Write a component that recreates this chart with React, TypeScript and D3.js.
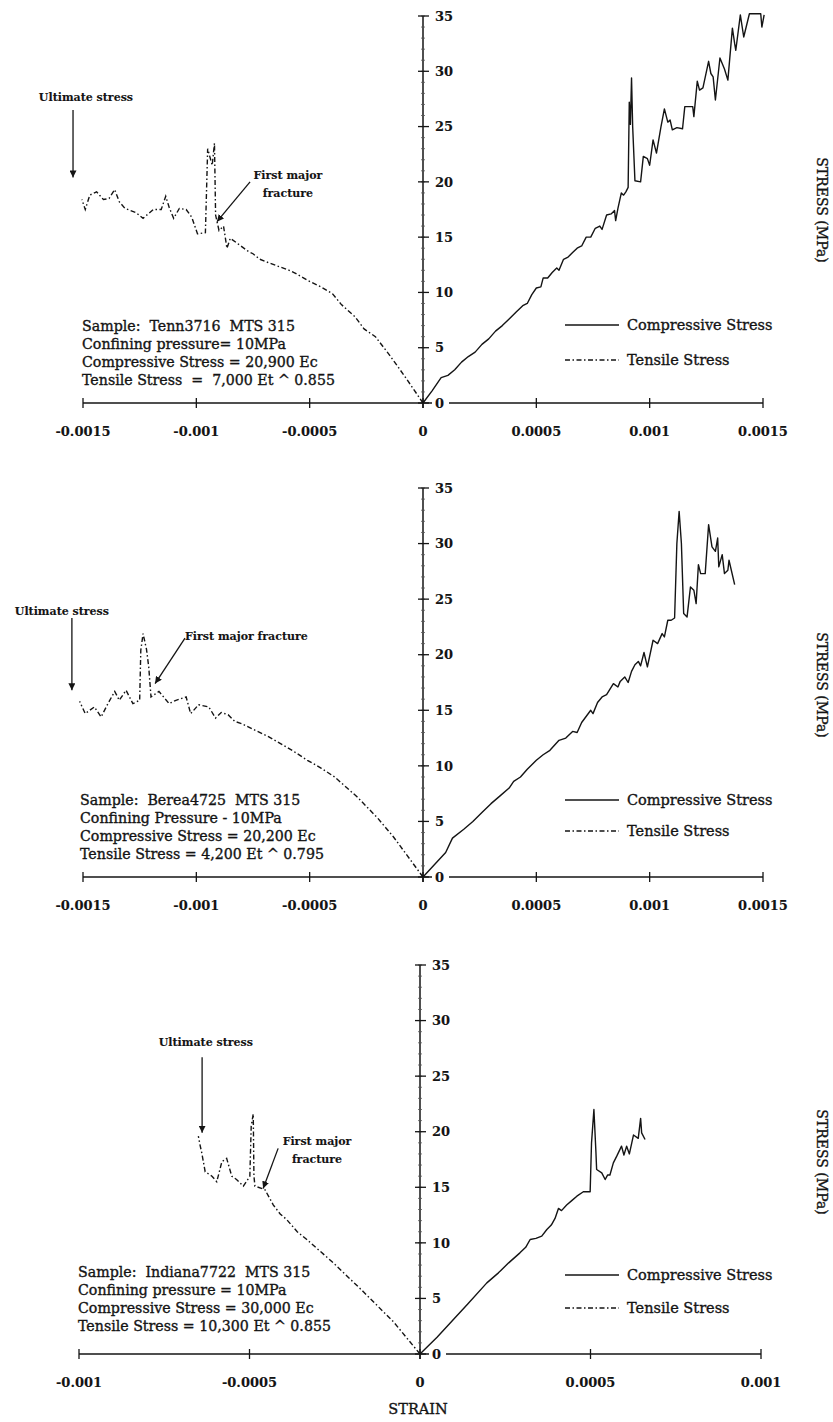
import * as d3 from 'd3';
import React, { useEffect, useRef } from 'react';

const WIDTH = 833;
const HEIGHT = 1422;
const FONT = "'DejaVu Serif', 'Liberation Serif', serif";

// stress axis (MPa)
const STRESS_TICKS = [0, 5, 10, 15, 20, 25, 30, 35];

// strain axis ticks
const STRAIN_TICKS_WIDE = [-0.0015, -0.001, -0.0005, 0, 0.0005, 0.001, 0.0015];
const STRAIN_LABELS_WIDE = ["-0.0015", "-0.001", "-0.0005", "0", "0.0005", "0.001", "0.0015"];
const STRAIN_TICKS_NARROW = [-0.001, -0.0005, 0, 0.0005, 0.001];
const STRAIN_LABELS_NARROW = ["-0.001", "-0.0005", "0", "0.0005", "0.001"];

const LEGEND_LABELS = ["Compressive Stress", "Tensile Stress"];

// curves: [strain (x 1e-4), stress (MPa)]
const TENN_COMPRESSIVE: [number, number][] = [
  [0, 0], [0.4, 1.1], [0.8, 2.3], [1.1, 2.5], [1.4, 3.0], [1.7, 3.7], [2.0, 4.2], [2.3, 4.6],
  [2.6, 5.3], [2.9, 5.8], [3.2, 6.5], [3.5, 7.0], [3.8, 7.6], [4.1, 8.2], [4.4, 8.8], [4.6, 9.0],
  [4.8, 9.8], [5.0, 10.4], [5.2, 10.5], [5.3, 11.3], [5.5, 11.3], [5.7, 11.8], [5.9, 12.2], [6.0, 12.0],
  [6.2, 13.0], [6.4, 13.2], [6.6, 13.6], [6.8, 14.0], [7.0, 14.2], [7.2, 15.0], [7.4, 15.0], [7.6, 15.8],
  [7.8, 16.0], [7.9, 15.7], [8.1, 17.0], [8.3, 17.1], [8.45, 17.4], [8.5, 16.5], [8.6, 17.6], [8.75, 19.0],
  [8.85, 18.8], [8.95, 19.1], [9.05, 19.5], [9.1, 27.2], [9.15, 25.2], [9.2, 29.4], [9.25, 25.0], [9.35, 20.1],
  [9.6, 20.0], [9.72, 22.3], [9.9, 22.1], [10.0, 21.5], [10.15, 23.8], [10.3, 22.6], [10.5, 25.0], [10.65, 26.6],
  [10.8, 25.4], [10.9, 25.6], [11.0, 24.7], [11.2, 24.9], [11.45, 24.8], [11.55, 26.8], [11.9, 26.8], [11.95, 25.9],
  [12.1, 29.1], [12.2, 28.3], [12.35, 28.5], [12.6, 30.9], [12.7, 29.8], [12.8, 29.5], [12.9, 27.4], [13.1, 31.2],
  [13.3, 30.2], [13.45, 29.2], [13.65, 33.9], [13.75, 32.5], [13.8, 31.9], [14.0, 35.1], [14.15, 33.1], [14.4, 35.2],
  [14.9, 35.2], [14.95, 34.0], [15.05, 35.1]
];
const TENN_TENSILE: [number, number][] = [
  [0, 0], [-0.8, 2.4], [-1.5, 4.4], [-2.1, 6.0], [-2.6, 6.7], [-3.0, 7.8], [-3.6, 8.9], [-4.0, 9.9],
  [-4.5, 10.5], [-5.1, 11.1], [-5.6, 11.7], [-5.9, 12.0], [-6.3, 12.3], [-6.7, 12.6], [-7.2, 13.0], [-7.5, 13.5],
  [-7.7, 13.7], [-8.1, 14.3], [-8.5, 14.9], [-8.65, 14.0], [-8.8, 16.0], [-9.0, 15.6], [-9.15, 17.0], [-9.2, 23.5],
  [-9.3, 21.5], [-9.5, 23.0], [-9.6, 15.4], [-9.95, 15.3], [-10.2, 16.8], [-10.45, 17.5], [-10.75, 17.6], [-11.0, 16.7],
  [-11.2, 17.7], [-11.35, 18.7], [-11.55, 17.5], [-11.9, 17.5], [-12.35, 16.7], [-12.65, 17.2], [-13.15, 17.6], [-13.4, 18.2],
  [-13.6, 19.3], [-13.85, 18.5], [-14.1, 18.4], [-14.4, 19.1], [-14.7, 18.8], [-14.9, 17.5], [-15.05, 18.4]
];

const BEREA_COMPRESSIVE: [number, number][] = [
  [0, 0], [0.5, 1.1], [1.0, 2.2], [1.3, 3.5], [1.8, 4.3], [2.2, 5.0], [2.6, 5.8], [3.0, 6.6],
  [3.4, 7.3], [3.8, 8.0], [4.0, 8.6], [4.3, 9.0], [4.6, 9.7], [5.0, 10.5], [5.3, 11.0], [5.6, 11.4],
  [6.0, 12.3], [6.3, 12.5], [6.6, 13.1], [6.8, 13.0], [7.0, 13.9], [7.4, 15.0], [7.5, 14.7], [7.7, 15.7],
  [7.9, 16.2], [8.1, 16.4], [8.4, 17.4], [8.6, 17.1], [8.7, 17.6], [8.9, 18.0], [9.05, 17.5], [9.2, 18.5],
  [9.35, 19.1], [9.5, 19.4], [9.6, 19.0], [9.75, 20.2], [9.9, 18.9], [10.15, 21.3], [10.35, 21.0], [10.55, 21.9],
  [10.65, 21.6], [10.8, 23.1], [10.95, 23.1], [11.1, 23.3], [11.2, 30.0], [11.3, 32.9], [11.4, 30.0], [11.5, 23.7],
  [11.65, 23.4], [11.8, 26.1], [11.95, 25.8], [12.05, 24.6], [12.15, 28.1], [12.25, 27.3], [12.45, 27.3], [12.6, 31.7],
  [12.75, 29.7], [12.9, 29.3], [13.0, 30.5], [13.05, 27.9], [13.2, 29.0], [13.3, 27.3], [13.45, 27.6], [13.5, 28.5],
  [13.75, 26.3]
];
const BEREA_TENSILE: [number, number][] = [
  [0, 0], [-1.3, 3.6], [-2.0, 5.3], [-2.9, 7.2], [-3.4, 8.1], [-3.9, 9.0], [-4.5, 9.8], [-5.1, 10.5],
  [-5.7, 11.3], [-6.2, 11.9], [-6.8, 12.6], [-7.4, 13.2], [-8.0, 13.8], [-8.3, 14.0], [-8.6, 14.6], [-8.9, 14.8],
  [-9.15, 14.3], [-9.45, 15.3], [-9.9, 15.5], [-10.25, 14.7], [-10.45, 16.2], [-10.9, 15.9], [-11.2, 15.6], [-11.65, 16.7],
  [-12.0, 16.2], [-12.1, 18.9], [-12.2, 20.5], [-12.35, 21.9], [-12.45, 20.4], [-12.5, 15.9], [-12.8, 15.6], [-13.1, 16.8],
  [-13.4, 15.9], [-13.6, 16.7], [-13.9, 15.6], [-14.2, 14.4], [-14.5, 15.3], [-14.9, 14.7], [-15.15, 15.8]
];

const INDIANA_COMPRESSIVE: [number, number][] = [
  [0, 0], [0.5, 1.5], [0.98, 3.1], [1.4, 4.5], [1.96, 6.4], [2.3, 7.3], [2.6, 8.2], [2.93, 9.1],
  [3.1, 9.6], [3.23, 10.3], [3.4, 10.4], [3.57, 10.6], [3.72, 11.2], [3.85, 11.6], [3.96, 12.2], [4.06, 13.1],
  [4.15, 12.9], [4.3, 13.4], [4.45, 13.8], [4.6, 14.2], [4.79, 14.6], [4.99, 14.6], [5.03, 19.0], [5.1, 22.0],
  [5.16, 18.1], [5.18, 16.6], [5.33, 16.3], [5.43, 15.7], [5.5, 16.1], [5.57, 16.1], [5.67, 17.2], [5.77, 17.8],
  [5.91, 18.7], [5.98, 17.9], [6.06, 18.7], [6.14, 18.0], [6.26, 19.7], [6.4, 19.4], [6.47, 21.2], [6.5, 19.9],
  [6.6, 19.3]
];
const INDIANA_TENSILE: [number, number][] = [
  [0, 0], [-0.78, 2.9], [-1.66, 5.6], [-2.54, 8.2], [-3.32, 10.3], [-3.6, 11.0], [-3.91, 12.1], [-4.1, 12.6],
  [-4.3, 13.4], [-4.55, 14.8], [-4.84, 15.1], [-4.87, 16.0], [-4.89, 21.6], [-4.95, 20.5], [-4.99, 16.0], [-5.03, 15.8],
  [-5.18, 15.1], [-5.38, 15.7], [-5.52, 16.0], [-5.67, 17.6], [-5.81, 17.3], [-5.96, 15.5], [-6.1, 16.0], [-6.3, 16.4],
  [-6.4, 18.1], [-6.45, 18.8], [-6.5, 19.6]
];

const TENN_NOTES = [
  "Sample:  Tenn3716  MTS 315",
  "Confining pressure= 10MPa",
  "Compressive Stress = 20,900 Ec",
  "Tensile Stress  =  7,000 Et ^ 0.855"
];
const BEREA_NOTES = [
  "Sample:  Berea4725  MTS 315",
  "Confining Pressure - 10MPa",
  "Compressive Stress = 20,200 Ec",
  "Tensile Stress = 4,200 Et ^ 0.795"
];
const INDIANA_NOTES = [
  "Sample:  Indiana7722  MTS 315",
  "Confining pressure = 10MPa",
  "Compressive Stress = 30,000 Ec",
  "Tensile Stress = 10,300 Et ^ 0.855"
];

// panel layout (pixels) and annotation anchors (strain, MPa)
const PANELS = [
  {
    left: 83, right: 763, top: 16, bottom: 403, strainMax: 0.0015,
    ticks: STRAIN_TICKS_WIDE, labels: STRAIN_LABELS_WIDE,
    compressive: TENN_COMPRESSIVE, tensile: TENN_TENSILE, notes: TENN_NOTES,
    notesX: 82, notesY: 331, legendY: 325, legendGap: 35, titleY: 210,
    ultimate: { tx: -0.001487, ty: 27.35, ax: -0.001544, ay1: 26.5, ay2: 20.4 },
    fracture: { lines: ["First major", "fracture"], tx: -0.000596, ty: 20.3, ax1: -0.000763, ay1: 20.0, ax2: -0.000909, ay2: 16.4 }
  },
  {
    left: 83, right: 763, top: 488, bottom: 877, strainMax: 0.0015,
    ticks: STRAIN_TICKS_WIDE, labels: STRAIN_LABELS_WIDE,
    compressive: BEREA_COMPRESSIVE, tensile: BEREA_TENSILE, notes: BEREA_NOTES,
    notesX: 80, notesY: 805, legendY: 800, legendGap: 31, titleY: 685,
    ultimate: { tx: -0.001593, ty: 23.6, ax: -0.001549, ay1: 23.3, ay2: 16.8 },
    fracture: { lines: ["First major fracture"], tx: -0.000779, ty: 21.3, ax1: -0.00105, ay1: 21.5, ax2: -0.001182, ay2: 17.4 }
  },
  {
    left: 79, right: 761, top: 965, bottom: 1354, strainMax: 0.001,
    ticks: STRAIN_TICKS_NARROW, labels: STRAIN_LABELS_NARROW,
    compressive: INDIANA_COMPRESSIVE, tensile: INDIANA_TENSILE, notes: INDIANA_NOTES,
    notesX: 78, notesY: 1277, legendY: 1275, legendGap: 33, titleY: 1162,
    ultimate: { tx: -0.000628, ty: 27.7, ax: -0.000639, ay1: 26.7, ay2: 19.9 },
    fracture: { lines: ["First major", "fracture"], tx: -0.000302, ty: 18.8, ax1: -0.000416, ay1: 18.5, ax2: -0.00046, ay2: 14.9 }
  }
];

const TENSILE_DASH = "5,2.5,1.5,2.5";
const INK = "#141414";

const App: React.FC = () => {
  const svgRef = useRef<SVGSVGElement>(null);

  useEffect(() => {
    if (!svgRef.current) { return; }
    const svg = d3.select(svgRef.current);
    svg.selectAll("*").remove();

    svg.append("rect").attr("width", WIDTH).attr("height", HEIGHT).attr("fill", "#fff");

    svg.append("defs").append("marker")
      .attr("id", "arrowhead")
      .attr("viewBox", "0 0 10 10")
      .attr("refX", 10).attr("refY", 5)
      .attr("markerWidth", 7).attr("markerHeight", 7)
      .attr("markerUnits", "userSpaceOnUse")
      .attr("orient", "auto")
      .append("path")
      .attr("d", "M0,0 L10,5 L0,10 Z")
      .attr("fill", INK);

    // heavier serif text, like the scanned print
    const inked = (sel: d3.Selection<SVGTextElement, any, any, any>, size: number, bold = false) =>
      sel.style("font-family", FONT)
        .style("font-size", `${size}px`)
        .style("font-weight", bold ? "bold" : "normal")
        .style("fill", INK)
        .style("stroke", INK)
        .style("stroke-width", bold ? 0.1 : 0.35);

    PANELS.forEach(panel => {
      const x = d3.scaleLinear()
        .domain([-panel.strainMax, panel.strainMax])
        .range([panel.left, panel.right]);
      const y = d3.scaleLinear()
        .domain([0, 35])
        .range([panel.bottom, panel.top]);
      const x0 = x(0);
      const g = svg.append("g");

      // x axis
      g.append("line")
        .attr("x1", x(panel.ticks[0])).attr("x2", x(panel.ticks[panel.ticks.length - 1]))
        .attr("y1", y(0)).attr("y2", y(0))
        .attr("stroke", INK).attr("stroke-width", 1.3);
      g.selectAll(".xtick")
        .data(panel.ticks)
        .enter().append("line")
        .attr("x1", t => x(t)).attr("x2", t => x(t))
        .attr("y1", y(0) - 5).attr("y2", y(0) + 5)
        .attr("stroke", INK).attr("stroke-width", 1.3);
      inked(g.selectAll(".xlabel")
        .data(panel.ticks)
        .enter().append("text")
        .attr("x", t => x(t))
        .attr("y", y(0) + 33)
        .attr("text-anchor", "middle")
        .text((t, i) => panel.labels[i]), 13, true);

      // y axis
      g.append("line")
        .attr("x1", x0).attr("x2", x0)
        .attr("y1", y(0) + 5).attr("y2", y(35))
        .attr("stroke", INK).attr("stroke-width", 1.5);
      g.selectAll(".yminor")
        .data(d3.range(0, 36))
        .enter().append("line")
        .attr("x1", x0 - 2).attr("x2", x0 + 2)
        .attr("y1", v => y(v)).attr("y2", v => y(v))
        .attr("stroke", "#555").attr("stroke-width", 0.8);
      g.selectAll(".ytick")
        .data(STRESS_TICKS)
        .enter().append("line")
        .attr("x1", x0 - 5).attr("x2", x0 + 6)
        .attr("y1", v => y(v)).attr("y2", v => y(v))
        .attr("stroke", INK).attr("stroke-width", 1.3);
      g.selectAll(".ybg")
        .data(STRESS_TICKS)
        .enter().append("rect")
        .attr("x", x0 + 9).attr("y", v => y(v) - 7)
        .attr("width", v => v < 10 ? 17 : 24).attr("height", 14)
        .attr("fill", "#fff");
      inked(g.selectAll(".ylabel")
        .data(STRESS_TICKS)
        .enter().append("text")
        .attr("x", x0 + 12)
        .attr("y", v => y(v))
        .attr("dy", "0.36em")
        .text(v => `${v}`), 13, true);

      // curves
      const line = d3.line<[number, number]>()
        .x(d => x(d[0] * 1e-4))
        .y(d => y(d[1]));
      g.append("path")
        .attr("d", line(panel.compressive))
        .attr("fill", "none")
        .attr("stroke", INK)
        .attr("stroke-width", 1.4)
        .attr("stroke-linejoin", "round");
      g.append("path")
        .attr("d", line(panel.tensile))
        .attr("fill", "none")
        .attr("stroke", INK)
        .attr("stroke-width", 1.4)
        .attr("stroke-dasharray", TENSILE_DASH);

      // sample notes
      inked(g.selectAll(".note")
        .data(panel.notes)
        .enter().append("text")
        .attr("x", panel.notesX)
        .attr("y", (n, i) => panel.notesY + i * 18)
        .style("white-space", "pre")
        .text(n => n), 14.2);

      // legend
      LEGEND_LABELS.forEach((label, i) => {
        const ly = panel.legendY + i * panel.legendGap;
        g.append("line")
          .attr("x1", 565).attr("x2", 619)
          .attr("y1", ly).attr("y2", ly)
          .attr("stroke", INK).attr("stroke-width", 1.4)
          .attr("stroke-dasharray", i === 0 ? null : TENSILE_DASH);
        inked(g.append("text")
          .attr("x", 627).attr("y", ly)
          .attr("dy", "0.35em")
          .text(label), 14.5);
      });

      // axis title
      inked(g.append("text")
        .attr("transform", `translate(822,${panel.titleY}) rotate(90)`)
        .attr("text-anchor", "middle")
        .attr("dy", "0.35em")
        .text("STRESS (MPa)"), 14);

      // ultimate stress annotation
      const u = panel.ultimate;
      inked(g.append("text")
        .attr("x", x(u.tx)).attr("y", y(u.ty))
        .attr("text-anchor", "middle")
        .text("Ultimate stress"), 11, true);
      g.append("line")
        .attr("x1", x(u.ax)).attr("x2", x(u.ax))
        .attr("y1", y(u.ay1)).attr("y2", y(u.ay2))
        .attr("stroke", INK).attr("stroke-width", 1.3)
        .attr("marker-end", "url(#arrowhead)");

      // first major fracture annotation
      const f = panel.fracture;
      f.lines.forEach((txt, i) => {
        inked(g.append("text")
          .attr("x", x(f.tx)).attr("y", y(f.ty) + i * 18)
          .attr("text-anchor", "middle")
          .text(txt), 11, true);
      });
      g.append("line")
        .attr("x1", x(f.ax1)).attr("x2", x(f.ax2))
        .attr("y1", y(f.ay1)).attr("y2", y(f.ay2))
        .attr("stroke", INK).attr("stroke-width", 1.3)
        .attr("marker-end", "url(#arrowhead)");
    });

    // shared x title
    inked(svg.append("text")
      .attr("x", 418).attr("y", 1414)
      .attr("text-anchor", "middle")
      .text("STRAIN"), 14.5);
  }, []);

  return (
    <div style={{ position: "absolute", left: 0, top: 0 }}>
      <svg ref={svgRef} width={WIDTH} height={HEIGHT} style={{ display: "block" }} />
    </div>
  );
};

export default App;
